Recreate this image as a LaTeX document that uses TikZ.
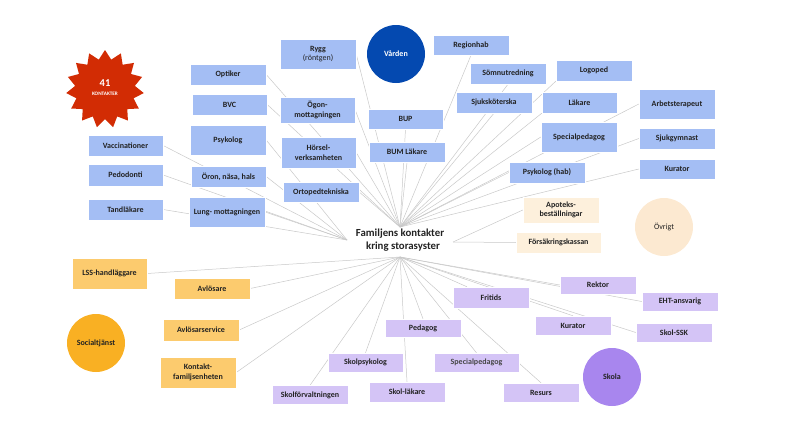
\documentclass[tikz,border=0pt]{standalone}
\usepackage{fontspec}
\setmainfont{Carlito}
\usetikzlibrary{shapes.geometric,backgrounds}
\definecolor{bluebox}{HTML}{A4BEF4}
\definecolor{purplebox}{HTML}{D4C4F6}
\definecolor{orangebox}{HTML}{FCCB6E}
\definecolor{beigebox}{HTML}{FDF0DC}
\definecolor{vardenc}{HTML}{0449B0}
\definecolor{socialc}{HTML}{F9B023}
\definecolor{ovrigtc}{HTML}{FCE9D1}
\definecolor{skolac}{HTML}{A886EE}
\definecolor{starc}{HTML}{D22C04}
\definecolor{linegray}{HTML}{C8C8C8}
\definecolor{txt}{HTML}{222222}
\tikzset{
  box/.style={rectangle, inner sep=0pt, align=center, text=txt,
    font=\bfseries\fontsize{8}{9.5}\selectfont, draw=white, line width=0.4pt},
  bl/.style={box, fill=bluebox},
  pu/.style={box, fill=purplebox},
  orb/.style={box, fill=orangebox},
  be/.style={box, fill=beigebox},
  grp/.style={circle, inner sep=0pt, minimum size=58pt, align=center,
    font=\bfseries\fontsize{8}{9.5}\selectfont, text=txt},
  link/.style={draw=linegray, line width=0.5pt},
}
\begin{document}
\begin{tikzpicture}[x=1pt,y=-1pt]
\useasboundingbox (0,0) rectangle (785,442);
% hub
\node[font=\bfseries\fontsize{10.8}{12.5}\selectfont, align=center, text=txt, inner sep=0pt] (hub) at (400,240) {Familjens kontakter\\\hspace*{6pt}kring storasyster};
\coordinate (ptop) at (400,227);
\coordinate (pleft) at (347,240);
\coordinate (pright) at (453,242);
\coordinate (pbot) at (400,257);
% star
\node[star, star points=15, star point ratio=1.3, minimum size=78pt, inner sep=0pt, fill=starc] (star) at (105,89) {};
\node[text=white, font=\bfseries\fontsize{10.5}{11}\selectfont, inner sep=0pt] (n41) at (105,83.5) {41};
\node[text=white, font=\bfseries\fontsize{5.2}{6}\selectfont, inner sep=0pt] (kont) at (105,93.5) {KONTAKTER};
% circles
\node[grp, fill=vardenc, text=white] (varden) at (396,54) {Vården};
\node[grp, fill=ovrigtc, font=\fontsize{8}{9.5}\selectfont] (ovrigt) at (664,227) {Övrigt};
\node[grp, fill=socialc] (social) at (96,343) {Socialtjänst};
\node[grp, fill=skolac] (skola) at (612,377) {Skola};
% blue boxes
\node[bl, minimum width=76pt, minimum height=30pt] (rygg) at (318,54) {Rygg\\{\mdseries (röntgen)}};
\node[bl, minimum width=76pt, minimum height=21pt] (optiker) at (228,74.5) {Optiker};
\node[bl, minimum width=75pt, minimum height=21pt] (bvc) at (229.5,104.5) {BVC};
\node[bl, minimum width=75pt, minimum height=26pt] (ogon) at (317.5,110) {Ögon-\\mottagningen};
\node[bl, minimum width=76pt, minimum height=30pt] (psyk) at (228,140) {Psykolog};
\node[bl, minimum width=75pt, minimum height=31pt] (horsel) at (318.5,152.5) {Hörsel-\\verksamheten};
\node[bl, minimum width=75pt, minimum height=21pt] (vacc) at (125.5,145.5) {Vaccinationer};
\node[bl, minimum width=75pt, minimum height=22pt] (pedo) at (125.5,175) {Pedodonti};
\node[bl, minimum width=75pt, minimum height=21pt] (oron) at (228.5,176.5) {Öron, näsa, hals};
\node[bl, minimum width=76pt, minimum height=20pt] (ortoped) at (321,192) {Ortopedtekniska};
\node[bl, minimum width=75pt, minimum height=21pt] (tand) at (125.5,209.5) {Tandläkare};
\node[bl, minimum width=76pt, minimum height=30pt] (lung) at (227,212) {Lung- mottagningen};
\node[bl, minimum width=75pt, minimum height=20pt] (bup) at (405.5,119) {BUP};
\node[bl, minimum width=76pt, minimum height=20pt] (bum) at (407,152) {BUM Läkare};
\node[bl, minimum width=76pt, minimum height=20pt] (regionhab) at (471,45) {Regionhab};
\node[bl, minimum width=76pt, minimum height=21pt] (somn) at (508,73.5) {Sömnutredning};
\node[bl, minimum width=76pt, minimum height=21pt] (logoped) at (594,70.5) {Logoped};
\node[bl, minimum width=76pt, minimum height=21pt] (sjuksk) at (494,102.5) {Sjuksköterska};
\node[bl, minimum width=75pt, minimum height=21pt] (lakare) at (579.5,102.5) {Läkare};
\node[bl, minimum width=76pt, minimum height=30pt] (arbets) at (677,104) {Arbetsterapeut};
\node[bl, minimum width=76pt, minimum height=30pt] (specped) at (579,137) {Specialpedagog};
\node[bl, minimum width=76pt, minimum height=21pt] (sjukgym) at (677,138.5) {Sjukgymnast};
\node[bl, minimum width=76pt, minimum height=21pt] (psykhab) at (547,172.5) {Psykolog (hab)};
\node[bl, minimum width=76pt, minimum height=20pt] (kurator) at (677,169) {Kurator};
% beige boxes
\node[be, minimum width=76pt, minimum height=26pt] (apoteks) at (561,210) {Apoteks-\\beställningar};
\node[be, minimum width=85pt, minimum height=21pt] (forsak) at (558.5,242.5) {Försäkringskassan};
% orange boxes
\node[orb, minimum width=75pt, minimum height=31pt] (lss) at (109.5,273.5) {LSS-handläggare};
\node[orb, minimum width=76pt, minimum height=21pt] (avlosare) at (212,288.5) {Avlösare};
\node[orb, minimum width=76pt, minimum height=22pt] (avlservice) at (201,330) {Avlösarservice};
\node[orb, minimum width=76pt, minimum height=31pt] (kontakt) at (198,372.5) {Kontakt-\\familjsenheten};
% purple boxes
\node[pu, minimum width=76pt, minimum height=19pt] (skolforv) at (310,395) {Skolförvaltningen};
\node[pu, minimum width=75pt, minimum height=19pt] (skolpsyk) at (365.5,362.5) {Skolpsykolog};
\node[pu, minimum width=76pt, minimum height=20pt] (skollak) at (407,392) {Skol-läkare};
\node[pu, minimum width=76pt, minimum height=18pt] (pedagog) at (423,328) {Pedagog};
\node[pu, minimum width=85pt, minimum height=19pt, text=black!72] (specpedP) at (476.5,362.5) {Specialpedagog};
\node[pu, minimum width=76pt, minimum height=19pt] (resurs) at (541,392.5) {Resurs};
\node[pu, minimum width=76pt, minimum height=21pt] (fritids) at (491,297.5) {Fritids};
\node[pu, minimum width=76pt, minimum height=19pt] (kuratorP) at (573,325.5) {Kurator};
\node[pu, minimum width=76pt, minimum height=18pt] (rektor) at (598,285) {Rektor};
\node[pu, minimum width=76pt, minimum height=19pt] (eht) at (680,301.5) {EHT-ansvarig};
\node[pu, minimum width=76pt, minimum height=19pt] (skolssk) at (674,332.5) {Skol-SSK};
% connectors
\begin{scope}[on background layer]
\foreach \n in {vacc,pedo,tand,psyk,oron,lung}
  \draw[link] (pleft) -- (\n.east);
\foreach \n in {optiker,bvc,ogon,horsel,ortoped,rygg}
  \draw[link] (ptop) -- (\n.east);
\foreach \n in {bup,bum,regionhab,somn,sjuksk}
  \draw[link] (ptop) -- (\n.south);
\foreach \n in {logoped,lakare}
  \draw[link] (ptop) -- (\n.south west);
\foreach \n in {arbets,specped,sjukgym,psykhab,kurator}
  \draw[link] (ptop) -- (\n.west);
\foreach \n in {apoteks,forsak}
  \draw[link] (pright) -- (\n.west);
\foreach \n in {lss,avlosare,avlservice,kontakt}
  \draw[link] (pbot) -- (\n.east);
\foreach \n in {rektor,eht,skolssk}
  \draw[link] (pbot) -- (\n.west);
\foreach \n in {skolforv,skolpsyk,skollak,pedagog,specpedP,resurs,kuratorP}
  \draw[link] (pbot) -- (\n.north);
\draw[link] (pbot) -- (fritids);
\end{scope}
\end{tikzpicture}
\end{document}
